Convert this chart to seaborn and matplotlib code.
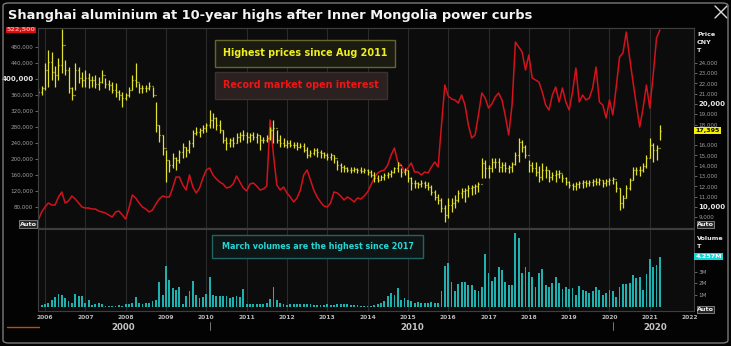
import numpy as np
import pandas as pd
import matplotlib
matplotlib.use("Agg")
import matplotlib.pyplot as plt
from matplotlib.patches import FancyBboxPatch
from matplotlib.lines import Line2D
import seaborn as sns

# Monthly bars, end of Oct 2005 through end of Mar 2021
# SHFE aluminium, CNY per tonne
price_high = [
    21550, 21740,
    23970, 25240, 25040, 23680, 24460, 27270, 24260, 23580, 21640, 23970, 23580, 23100,
    23290, 23000, 22710, 22810, 22610, 23290, 22520, 22320, 22130, 22030, 21350, 21160,
    21060, 21640, 22810, 23970, 22030, 21840, 21840, 22130, 21640, 20190, 17950, 16980,
    15530, 14550, 15230, 14850, 15530, 16210, 15820, 16500, 17470, 17760, 17660, 17950,
    18150, 19410, 19120, 18730, 18440, 17470, 16790, 16690, 16790, 17180, 17270, 17470,
    17270, 17180, 17270, 17180, 16980, 16790, 16980, 17760, 18440, 17470, 16980, 16690,
    16500, 16500, 16300, 16300, 16210, 16210, 15820, 15530, 15720, 15720, 15530, 15330,
    15230, 15230, 15040, 14550, 14260, 14070, 13880, 13880, 13880, 13780, 13880, 13780,
    13680, 13580, 13390, 13100, 13100, 13290, 13390, 13580, 13880, 14360, 13780, 13780,
    13580, 12900, 12610, 12420, 12610, 12520, 12420, 12130, 11640, 11250, 10870, 10190,
    10870, 10870, 11160, 11640, 11840, 11840, 12130, 12130, 12220, 12420, 14750, 14550,
    14070, 14750, 14750, 14750, 14360, 14360, 14070, 14360, 15330, 16690, 16500, 16010,
    14550, 14360, 14360, 13970, 14260, 13970, 13580, 13390, 13580, 13580, 13200, 12900,
    12520, 12320, 12420, 12520, 12610, 12610, 12610, 12710, 12810, 12810, 12610, 12710,
    12810, 12900, 12520, 11840, 11160, 12130, 12810, 13880, 13880, 13970, 14260, 15040,
    16690, 16210, 16010, 17950,
]
price_low = [
    20670, 20870,
    21350, 21640, 22320, 21640, 22320, 23000, 22810, 21060, 20380, 21350, 22030, 21640,
    21640, 21550, 21640, 21550, 21350, 22030, 21550, 21350, 21060, 20670, 20380, 19700,
    20380, 20670, 21350, 21640, 21060, 21060, 21160, 21350, 20670, 17270, 16300, 15040,
    12420, 13390, 13780, 13580, 14260, 14750, 14850, 15230, 15820, 16980, 16790, 17180,
    17270, 17660, 17660, 17470, 17180, 16210, 15530, 15820, 15820, 16210, 16300, 16500,
    16210, 16300, 16500, 16210, 15530, 16210, 16300, 16500, 16210, 16210, 15820, 15820,
    15720, 15820, 15720, 15530, 15720, 15330, 14750, 14850, 15040, 14850, 14750, 14750,
    14550, 14550, 14260, 13580, 13390, 13390, 13390, 13290, 13390, 13290, 13290, 13290,
    13100, 12900, 12420, 12420, 12610, 12610, 12810, 12900, 13290, 13390, 12900, 13100,
    12420, 11640, 11840, 11840, 11930, 11840, 11640, 11160, 10670, 10280, 9510, 8530,
    8920, 9510, 9890, 10480, 10870, 10480, 10960, 11160, 11250, 11450, 12810, 12810,
    12810, 13390, 13780, 13390, 13390, 13390, 13290, 13390, 14070, 14360, 15330, 14750,
    13390, 13390, 13000, 12420, 12610, 12810, 12420, 12610, 12420, 12810, 12420, 12130,
    11840, 11640, 11640, 11840, 11840, 11930, 12030, 12030, 12130, 12130, 11930, 12030,
    12130, 12220, 11450, 9700, 9890, 10870, 11640, 12610, 13100, 13000, 13390, 13780,
    14750, 14360, 14550, 16500,
]
price_close = [
    21160, 21550,
    23290, 24070, 23100, 22810, 23780, 25720, 23290, 21550, 20870, 23290, 22520, 22320,
    22520, 22320, 22320, 21930, 22130, 22810, 21930, 21840, 21350, 21160, 20870, 20570,
    20870, 21350, 22320, 22130, 21550, 21550, 21550, 21740, 20870, 17950, 16980, 15720,
    14550, 14070, 14750, 14550, 15330, 15820, 15530, 16210, 17180, 17270, 17470, 17660,
    17950, 18440, 18630, 17950, 17470, 16500, 16210, 16500, 16210, 16790, 16980, 16980,
    16790, 16980, 16790, 16980, 16500, 16500, 16690, 17470, 17660, 16500, 16210, 16010,
    16210, 16010, 16010, 15820, 15910, 15530, 15040, 15230, 15530, 15330, 15230, 15040,
    14850, 15040, 14750, 14070, 13880, 13780, 13580, 13580, 13680, 13580, 13490, 13580,
    13390, 13100, 12810, 12610, 12900, 13100, 13200, 13390, 13780, 14070, 13390, 13580,
    12810, 12320, 12320, 12220, 12320, 12130, 11930, 11450, 10960, 10670, 9890, 9210,
    10190, 10380, 10670, 11350, 11540, 11640, 11840, 11930, 12030, 12220, 14260, 13780,
    13780, 14360, 14360, 13880, 14070, 13780, 13880, 14170, 15040, 16300, 15820, 15040,
    14070, 13780, 13390, 12900, 13580, 13580, 12900, 13100, 13200, 13290, 12810, 12420,
    12130, 12030, 12220, 12320, 12420, 12320, 12420, 12520, 12420, 12610, 12320, 12520,
    12610, 12710, 11840, 10380, 10870, 11840, 12610, 13580, 13580, 13580, 13970, 14750,
    16010, 15530, 15720, 17395,
]
# Market open interest, thousand lots
open_interest_k = [
    47.5, 67.5,
    80, 90, 85, 85, 105, 117.5, 90, 95, 107.5, 100, 90, 80,
    77.5, 77.5, 75, 75, 70, 67.5, 65, 60, 55, 67.5, 70, 60,
    50, 77.5, 110, 102.5, 90, 80, 75, 67.5, 72.5, 87.5, 100, 107.5,
    105, 105, 127.5, 155, 155, 135, 122.5, 160, 130, 115, 127.5, 152.5,
    172.5, 177.5, 160, 150, 142.5, 137.5, 127.5, 130, 137.5, 157.5, 142.5, 127.5,
    120, 137.5, 140, 132.5, 122.5, 125, 132.5, 297.5, 210, 135, 122.5, 130,
    115, 105, 92.5, 102.5, 122.5, 160, 172.5, 147.5, 122.5, 105, 92.5, 82.5,
    80, 90, 117.5, 115, 107.5, 97.5, 105, 100, 92.5, 102.5, 100, 107.5,
    117.5, 135, 152.5, 165, 170, 172.5, 185, 210, 227.5, 192.5, 185, 167.5,
    177.5, 190, 167.5, 167.5, 160, 167.5, 165, 180, 192.5, 180, 285, 385,
    357.5, 350, 347.5, 340, 360, 335, 285, 252.5, 260, 310, 365, 352.5,
    327.5, 337.5, 355, 365, 347.5, 307.5, 260, 335, 492.5, 480, 467.5, 422.5,
    460, 402.5, 397.5, 392.5, 367.5, 335, 322.5, 360, 380, 342.5, 377.5, 342.5,
    322.5, 367.5, 427.5, 342.5, 360, 347.5, 352.5, 377.5, 430, 342.5, 335, 302.5,
    347.5, 310, 380, 455, 465, 517.5, 452.5, 392.5, 335, 280, 327.5, 385,
    327.5, 410, 502.5, 522.5,
]
# Traded volume, million tonnes
volume_m = [
    0.1, 0.15,
    0.2, 0.35, 0.6, 0.8, 1.05, 1.0, 0.7, 0.45, 0.35, 1.1, 0.9, 0.95,
    0.3, 0.55, 0.15, 0.2, 0.3, 0.2, 0.1, 0.1, 0.1, 0.1, 0.15, 0.1,
    0.2, 0.25, 0.3, 0.85, 0.3, 0.25, 0.35, 0.3, 0.45, 0.6, 2.1, 1.0,
    3.45, 2.3, 1.6, 1.4, 1.7, 0.25, 0.9, 1.3, 2.2, 1.0, 0.7, 0.8,
    1.1, 2.55, 1.0, 0.95, 0.95, 0.95, 0.9, 0.75, 0.8, 0.9, 0.8, 1.55,
    0.25, 0.25, 0.25, 0.2, 0.25, 0.2, 0.3, 0.65, 1.7, 0.6, 0.3, 0.2,
    0.15, 0.2, 0.2, 0.25, 0.2, 0.2, 0.25, 0.2, 0.15, 0.15, 0.15, 0.15,
    0.2, 0.15, 0.15, 0.2, 0.25, 0.2, 0.2, 0.15, 0.15, 0.15, 0.1, 0.1,
    0.1, 0.1, 0.15, 0.25, 0.3, 0.5, 0.95, 1.2, 1.0, 1.6, 0.55, 0.7,
    0.6, 0.5, 0.3, 0.4, 0.35, 0.35, 0.3, 0.4, 0.35, 0.3, 1.3, 3.5,
    3.7, 2.1, 1.3, 1.9, 2.1, 2.1, 1.85, 1.85, 1.4, 1.3, 1.7, 4.5,
    2.9, 2.2, 2.55, 3.4, 3.1, 2.1, 1.85, 1.85, 6.3, 5.9, 2.9, 3.4,
    3.0, 2.55, 1.65, 2.9, 3.2, 1.85, 1.7, 2.0, 2.55, 2.0, 1.5, 1.65,
    1.5, 1.6, 1.0, 1.8, 1.45, 1.3, 1.2, 1.3, 1.7, 1.4, 1.0, 1.2,
    1.45, 1.3, 0.8, 1.7, 1.9, 1.9, 2.0, 2.7, 2.45, 2.55, 1.45, 2.8,
    4.1, 3.35, 3.55, 4.257,
]

oi_ticks = [80000, 120000, 160000, 200000, 240000, 280000, 320000, 360000,
            400000, 440000, 480000]
price_ticks = [9000, 10000, 11000, 12000, 13000, 14000, 15000, 16000,
               18000, 19000, 20000, 21000, 22000, 23000, 24000]
vol_ticks = [1, 2, 3]
year_ticks = list(range(2006, 2023))
decade_labels = ["2000", "2010", "2020"]

title = "Shanghai aluminium at 10-year highs after Inner Mongolia power curbs"
note_price = "Highest prices since Aug 2011"
note_oi = "Record market open interest"
note_vol = "March volumes are the highest since 2017"

# ---------------------------------------------------------------- frame
W, H = 731, 346
sns.set_style("dark")
plt.rcParams["font.family"] = ["DejaVu Sans"]

YELLOW = "#e2e22e"
RED = "#d3121c"
TEAL = "#1fb0b0"
GRID = "#2b2b2b"
SPINE = "#3e3e3e"
TICK = "#9c9c9c"
BG_AX = "#0c0c0c"


def fx(px):
    return px / W


def fy(py):
    return 1 - py / H


def rect(x0, y0, x1, y1):
    return [fx(x0), fy(y1), fx(x1) - fx(x0), fy(y0) - fy(y1)]


df = pd.DataFrame({
    "date": pd.date_range("2005-10-31", periods=len(price_close), freq="ME"),
    "high": price_high, "low": price_low, "close": price_close,
    "oi": np.array(open_interest_k) * 1000, "vol": volume_m,
})
df["t"] = df["date"].dt.year + df["date"].dt.month / 12
df["open"] = df["close"].shift(1).fillna(df["close"])

fig = plt.figure(figsize=(W / 100, H / 100), dpi=100, facecolor="#030303")

XLIM = (2005.814, 2022.096)
ax_oi = fig.add_axes(rect(37.5, 28, 694, 228))
ax_px = ax_oi.twinx()
ax_vol = fig.add_axes(rect(37.5, 229, 694, 311))

for ax in (ax_oi, ax_vol):
    ax.set_facecolor(BG_AX)
    ax.grid(False)
    ax.set_xlim(*XLIM)
    for yr in year_ticks[:-1]:
        ax.axvline(yr, color=GRID, lw=0.8, zorder=0)
for ax in (ax_oi, ax_px, ax_vol):
    for s in ax.spines.values():
        s.set_color(SPINE)
        s.set_linewidth(0.8)
ax_px.grid(False)

# ------------------------------------------------------ open interest line
sns.lineplot(x=df["t"], y=df["oi"], ax=ax_oi, color=RED, linewidth=1.1,
             legend=False)
ax_oi.set_ylim(27500, 527500)
ax_oi.set_xlabel("")
ax_oi.set_ylabel("")
ax_oi.set_xticks([])
ax_oi.set_yticks(oi_ticks, labels=[f"{v:,}" for v in oi_ticks])
ax_oi.tick_params(axis="y", length=2, width=0.6, color="#777777",
                  labelsize=4.1, labelcolor=TICK, pad=1)
for lab in ax_oi.get_yticklabels():
    if lab.get_text() == "400,000":
        lab.set_fontweight("bold")
        lab.set_fontsize(5)
        lab.set_color("#e6e6e6")

# ------------------------------------------------------------ price bars
w = 0.3 / 12
ax_px.vlines(df["t"], df["low"], df["high"], color=YELLOW, lw=0.9)
ax_px.hlines(df["open"], df["t"] - w, df["t"], color=YELLOW, lw=0.9)
ax_px.hlines(df["close"], df["t"], df["t"] + w, color=YELLOW, lw=0.9)
ax_px.set_xlim(*XLIM)
ax_px.set_ylim(7951, 27371)
ax_px.set_yticks(price_ticks, labels=[f"{v:,}" for v in price_ticks])
ax_px.tick_params(axis="y", length=2, width=0.6, color="#777777",
                  labelsize=4.1, labelcolor=TICK, pad=1)
for lab in ax_px.get_yticklabels():
    if lab.get_text() in ("10,000", "20,000"):
        lab.set_fontweight("bold")
        lab.set_fontsize(5)
        lab.set_color("#e6e6e6")

# --------------------------------------------------------------- volume
ax_vol.bar(df["t"], df["vol"], width=0.55 / 12, color=TEAL, linewidth=0)
ax_vol.set_ylim(-0.37, 6.64)
ax_vol.yaxis.tick_right()
ax_vol.set_yticks(vol_ticks, labels=[f"{v}M" for v in vol_ticks])
ax_vol.tick_params(axis="y", length=2, width=0.6, color="#777777",
                   labelsize=4.1, labelcolor=TICK, pad=1)
ax_vol.set_xticks(year_ticks, labels=[str(y) for y in year_ticks])
ax_vol.tick_params(axis="x", length=0, labelsize=4.3, labelcolor="#b8b8b8",
                   pad=3.2)
for lab in ax_vol.get_xticklabels():
    lab.set_fontweight("bold")

# ------------------------------------------------------------ value tags
tag = dict(fontsize=4.6, fontweight="bold", va="center", clip_on=False,
           zorder=10)
ax_px.text(1.002, df["close"].iloc[-1], f"{df['close'].iloc[-1]:,}",
           transform=ax_px.get_yaxis_transform(), ha="left", color="#111111",
           bbox=dict(boxstyle="square,pad=0.15", fc="#f2f200", ec="none"), **tag)
ax_oi.text(-0.003, df["oi"].iloc[-1], f"{df['oi'].iloc[-1]:,.0f}",
           transform=ax_oi.get_yaxis_transform(), ha="right", color="#ff8f8f",
           bbox=dict(boxstyle="square,pad=0.15", fc="#d81010", ec="none"), **tag)
ax_vol.text(1.002, df["vol"].iloc[-1], f"{df['vol'].iloc[-1]:.3f}M",
            transform=ax_vol.get_yaxis_transform(), ha="left", color="#ffffff",
            bbox=dict(boxstyle="square,pad=0.15", fc="#14d6d6", ec="none"), **tag)

# ------------------------------------------------------- axis headings
for txt, py in (("Price", 34), ("CNY", 42.5), ("T", 51), ("Volume", 239),
                ("T", 247)):
    fig.text(fx(697), fy(py), txt, color="#e8e8e8", fontsize=4.6,
             fontweight="bold", ha="left", va="center")


def auto_button(x0, y0, x1, y1):
    fig.add_artist(FancyBboxPatch((fx(x0), fy(y1)), fx(x1) - fx(x0),
                                  fy(y0) - fy(y1), boxstyle="square,pad=0",
                                  transform=fig.transFigure, fc="#262626",
                                  ec="#8a8a8a", lw=0.6, zorder=8))
    fig.text(fx((x0 + x1) / 2), fy((y0 + y1) / 2), "Auto", color="#f0f0f0",
             fontsize=4.6, fontweight="bold", ha="center", va="center",
             zorder=9)


auto_button(19, 220, 37, 228)
auto_button(697, 221, 714, 228)
auto_button(697, 306, 714, 313)


# ----------------------------------------------------------- callouts
def callout(x0, y0, x1, y1, text, color, face, edge, size):
    fig.add_artist(FancyBboxPatch((fx(x0), fy(y1)), fx(x1) - fx(x0),
                                  fy(y0) - fy(y1), boxstyle="square,pad=0",
                                  transform=fig.transFigure, fc=face, ec=edge,
                                  lw=1.0, zorder=8))
    fig.text(fx((x0 + x1) / 2), fy((y0 + y1) / 2), text, color=color,
             fontsize=size, fontweight="bold", ha="center", va="center",
             zorder=9)


callout(215, 40, 395, 67, note_price, "#f0f01e", "#1b1b12", "#66662c", 6.9)
callout(215, 72, 387, 99, note_oi, "#ee1515", "#2b2121", "#3e3030", 6.9)
callout(212, 235, 423, 258, note_vol, "#25d6d6", "#0f1414", "#1f6464", 5.8)

# --------------------------------------------------------------- title
fig.text(fx(8), fy(16), title, color="#f4f4f4", fontsize=9.4,
         fontweight="bold", ha="left", va="center")

# decade row under the year labels
for txt, px in zip(decade_labels, (123, 412, 655)):
    fig.text(fx(px), fy(327.5), txt, color="#c4c4c4", fontsize=6.2,
             fontweight="bold", ha="center", va="center")
for px in (210, 613):
    fig.add_artist(Line2D([fx(px), fx(px)], [fy(322), fy(330)],
                          transform=fig.transFigure, color="#8a8a8a", lw=0.6))
fig.add_artist(Line2D([fx(7), fx(39)], [fy(327), fy(327)],
                      transform=fig.transFigure, color="#c04a12", lw=1.0))

# outer window frame and close glyph
fig.add_artist(FancyBboxPatch((fx(3), fy(343)), fx(728) - fx(3),
                              fy(3) - fy(343),
                              boxstyle="round,pad=0,rounding_size=0.008",
                              transform=fig.transFigure, fc="none",
                              ec="#7a7a7a", lw=1.0, zorder=12))
for (a, b), (c, d) in (((715, 6), (727, 18)), ((727, 6), (715, 18))):
    fig.add_artist(Line2D([fx(a), fx(c)], [fy(b), fy(d)],
                          transform=fig.transFigure, color="#d8d8d8", lw=1.0))

fig.savefig("out.png", dpi=100, facecolor=fig.get_facecolor())
